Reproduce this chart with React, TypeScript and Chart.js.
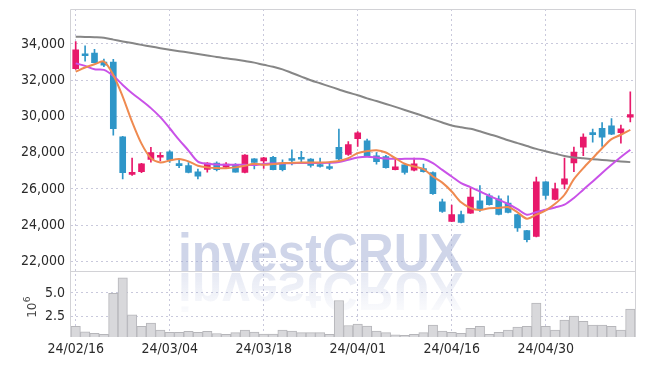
import { useEffect, useRef } from "react";
import { Chart, registerables } from "chart.js";
Chart.register(...registerables);

const dates = [
  "24/02/16","24/02/19","24/02/20","24/02/21","24/02/22","24/02/23","24/02/26","24/02/27","24/02/28","24/02/29",
  "24/03/04","24/03/05","24/03/06","24/03/07","24/03/08","24/03/11","24/03/12","24/03/13","24/03/14","24/03/15",
  "24/03/18","24/03/19","24/03/20","24/03/21","24/03/22","24/03/25","24/03/26","24/03/27","24/03/28","24/03/29",
  "24/04/01","24/04/02","24/04/03","24/04/04","24/04/05","24/04/08","24/04/09","24/04/11","24/04/12","24/04/15",
  "24/04/16","24/04/17","24/04/18","24/04/19","24/04/22","24/04/23","24/04/24","24/04/25","24/04/26","24/04/29",
  "24/04/30","24/05/02","24/05/03","24/05/07","24/05/08","24/05/09","24/05/10","24/05/13","24/05/14","24/05/16",
];

const opens = [
  32640,33400,33500,33000,33000,28880,26800,26950,27630,27750,
  28050,27400,27290,26950,27080,27430,27200,27350,26910,27660,
  27550,27740,27390,27600,27680,27650,27350,27240,28290,27900,
  28780,28660,27830,27790,27060,27330,27040,27130,26910,25290,
  24210,24580,24670,25350,25620,25460,25220,24580,23700,23380,
  26390,25420,26270,27430,28310,29050,29350,29480,29110,29960,
];
const highs = [
  34130,33900,33710,33160,33150,28900,27700,27420,28300,28000,
  28120,27650,27460,27100,27450,27500,27460,27400,27900,27680,
  27750,27800,27610,28160,28070,27680,27700,27430,29300,28620,
  29170,28750,28010,27850,27700,27350,27700,27370,26950,25440,
  25110,24780,26050,26180,25730,25620,25620,24600,23720,26650,
  26400,26320,27700,28310,29040,29300,29660,29880,29520,31360,
];
const lows = [
  32600,33050,32950,32750,28970,26550,26750,26900,27480,27550,
  27460,27180,26880,26550,26920,26990,27130,26930,26880,27100,
  27130,27050,27000,27330,27430,27200,27200,27060,27620,27850,
  28340,27790,27370,27150,27050,26820,27000,26930,25700,24700,
  24200,24120,24650,24760,25100,24560,24680,23660,23070,23350,
  25440,25400,26000,26950,27830,28580,28340,28990,28530,29700,
];
const closes = [
  33670,33350,32970,32830,29330,26900,26900,27390,28000,27830,
  27610,27290,26910,26700,27430,27060,27370,26930,27870,27460,
  27720,27060,27060,27570,27640,27300,27240,27130,27660,28450,
  29100,27790,27510,27180,27220,26910,27390,26960,25740,24760,
  24580,24150,25550,24890,25130,24600,24710,23850,23200,26390,
  25640,26000,26560,28030,28860,29000,28860,29020,29320,30100,
];
const maShort = [
  32470,32700,32880,33030,32290,31100,29700,28500,27700,27460,
  27570,27650,27520,27280,27190,27150,27140,27190,27280,27390,
  27330,27370,27430,27440,27460,27460,27460,27480,27540,27700,
  27980,28090,28140,28010,27700,27390,27240,27100,26690,26350,
  25860,25260,24950,24840,24930,24950,25000,24710,24360,24580,
  24820,25180,25680,26540,27150,27700,28250,28750,28990,29260,
];
const maMid = [
  32930,32790,32600,32570,32240,31740,31280,30880,30460,29960,
  29350,28710,28120,27510,27390,27350,27330,27330,27330,27320,
  27380,27400,27410,27420,27430,27430,27430,27440,27480,27610,
  27740,27780,27740,27680,27660,27660,27660,27650,27430,27050,
  26690,26320,26100,25860,25620,25400,25170,24890,24580,24730,
  24850,24980,25130,25500,25960,26410,26880,27330,27760,28160,
];
const maLong = [
  34400,34390,34370,34340,34240,34140,34050,33950,33860,33770,
  33680,33600,33530,33450,33370,33280,33210,33140,33060,32970,
  32850,32740,32600,32400,32200,32000,31830,31660,31490,31320,
  31170,31000,30850,30690,30530,30360,30190,30020,29840,29670,
  29500,29400,29320,29180,29020,28870,28690,28530,28370,28210,
  28080,27950,27820,27740,27690,27640,27600,27560,27520,27480,
];
const volumes = [
  1.47,0.87,0.73,0.62,4.96,6.6,2.68,1.47,1.8,1.05,
  0.83,0.83,0.94,0.83,0.94,0.7,0.62,0.8,1.05,0.85,
  0.65,0.65,1.05,0.95,0.8,0.8,0.8,0.62,4.2,1.55,
  1.7,1.5,0.95,0.8,0.55,0.5,0.62,0.8,1.58,0.97,
  0.83,0.73,1.26,1.47,0.62,0.83,1.05,1.37,1.47,3.93,
  1.47,1.05,2.12,2.54,2.0,1.58,1.58,1.47,1.05,3.3,
];
const priceTicks = [22000, 24000, 26000, 28000, 30000, 32000, 34000];
const volTicks = [2.5, 5.0];

const PINK = "#e8196b";
const BLUE = "#2f96c8";
const GRID = "#c9c9dc";
const FONT = "'DejaVu Sans Condensed', 'Liberation Sans Narrow', 'Roboto', sans-serif";

const fitY = (s: any) => {
  s.width = 63;
  s.paddingTop = 0;
  s.paddingBottom = 0;
};

export default function App() {
  const ref = useRef<HTMLCanvasElement>(null);
  useEffect(() => {
    const colors = closes.map((c, i) => (c >= opens[i] ? PINK : BLUE));

    const watermark = {
      id: "wm",
      beforeDatasetsDraw(chart: any) {
        const ctx = chart.ctx;
        const base = chart.scales.y.bottom;
        const x = 170;
        ctx.save();
        ctx.font = "bold 54px 'Liberation Sans', Arial, sans-serif";
        ctx.textBaseline = "alphabetic";
        ctx.textAlign = "left";
        ctx.fillStyle = "rgba(160,172,212,0.5)";
        ctx.fillText("investCRUX", x, base, 285);
        ctx.translate(0, base * 2 + 2);
        ctx.scale(1, -1);
        const g = ctx.createLinearGradient(0, base, 0, base - 48);
        g.addColorStop(0, "rgba(160,172,212,0.26)");
        g.addColorStop(1, "rgba(160,172,212,0)");
        ctx.fillStyle = g;
        ctx.fillText("investCRUX", x, base, 285);
        ctx.restore();
      },
    };

    const frame = {
      id: "frame",
      afterDraw(chart: any) {
        const ctx = chart.ctx;
        const ca = chart.chartArea;
        const sep = chart.scales.y.bottom;
        ctx.save();
        ctx.strokeStyle = "#d2d2d6";
        ctx.lineWidth = 1;
        ctx.beginPath();
        ctx.moveTo(Math.round(ca.left) - 0.5, ca.bottom);
        ctx.lineTo(Math.round(ca.left) - 0.5, Math.round(ca.top) + 0.5);
        ctx.lineTo(Math.round(ca.right) + 0.5, Math.round(ca.top) + 0.5);
        ctx.lineTo(Math.round(ca.right) + 0.5, ca.bottom);
        ctx.moveTo(ca.left, Math.round(sep) + 0.5);
        ctx.lineTo(ca.right, Math.round(sep) + 0.5);
        ctx.stroke();
        const cy = (chart.scales.yVol.top + chart.scales.yVol.bottom) / 2 + 6;
        ctx.translate(25, cy);
        ctx.rotate(-Math.PI / 2);
        ctx.fillStyle = "#444";
        ctx.font = "12px 'DejaVu Sans', sans-serif";
        ctx.textBaseline = "middle";
        ctx.textAlign = "center";
        ctx.fillText("10", 0, 0);
        ctx.font = "9px 'DejaVu Sans', sans-serif";
        ctx.textAlign = "left";
        ctx.fillText("6", 8, -5);
        ctx.restore();
      },
    };

    const chart = new Chart(ref.current as HTMLCanvasElement, {
      type: "bar",
      data: {
        labels: dates,
        datasets: [
          { type: "line", label: "MA5", data: maShort, yAxisID: "y", borderColor: "#ef8a50", borderWidth: 2, pointRadius: 0, tension: 0.3, order: 0 } as any,
          { type: "line", label: "MA10", data: maMid, yAxisID: "y", borderColor: "#c952e8", borderWidth: 2, pointRadius: 0, tension: 0.3, order: 0 } as any,
          { type: "line", label: "MA60", data: maLong, yAxisID: "y", borderColor: "#868686", borderWidth: 2, pointRadius: 0, tension: 0.3, order: 0 } as any,
          { label: "body", data: opens.map((o, i) => [o, closes[i]]), backgroundColor: colors, barThickness: 6, grouped: false, yAxisID: "y", order: 1, minBarLength: 2 } as any,
          { label: "wick", data: lows.map((l, i) => [l, highs[i]]), backgroundColor: colors, barThickness: 1, grouped: false, yAxisID: "y", order: 2 } as any,
          { label: "volume", data: volumes, backgroundColor: "#d8d8db", borderColor: "#b6b6ba", borderWidth: 1, barPercentage: 1, categoryPercentage: 1, grouped: false, yAxisID: "yVol", order: 3 } as any,
        ],
      },
      options: {
        animation: false,
        responsive: true,
        maintainAspectRatio: false,
        layout: { padding: { top: 1, right: 2, left: 0, bottom: 0 } },
        plugins: { legend: { display: false }, tooltip: { enabled: false } },
        scales: {
          x: {
            type: "category",
            offset: true,
            grid: { offset: false, color: GRID, drawTicks: false },
            border: { display: false, dash: [2, 3] },
            afterBuildTicks: (s: any) => { s.ticks = s.ticks.filter((t: any) => t.value % 10 === 0); },
            afterFit: (s: any) => { s.height = 21; s.paddingLeft = 0; s.paddingRight = 0; },
            ticks: {
              autoSkip: false, maxRotation: 0, padding: 4, color: "#2a2a2a",
              font: { family: FONT, size: 14 },
              callback: (v: any) => dates[v as number],
            },
          },
          yVol: {
            type: "linear",
            position: "left",
            stack: "main",
            stackWeight: 1,
            min: 0.33,
            max: 7.28,
            grid: { color: GRID, drawTicks: false },
            border: { display: false, dash: [2, 3] },
            afterBuildTicks: (s: any) => { s.ticks = volTicks.map((v) => ({ value: v })); },
            afterFit: fitY,
            ticks: {
              padding: 6, color: "#2a2a2a",
              font: { family: FONT, size: 14 },
              callback: (v: any) => Number(v).toFixed(1),
            },
          },
          y: {
            type: "linear",
            position: "left",
            stack: "main",
            stackWeight: 4,
            min: 21450,
            max: 35930,
            grid: { color: GRID, drawTicks: false },
            border: { display: false, dash: [2, 3] },
            afterBuildTicks: (s: any) => { s.ticks = priceTicks.map((v) => ({ value: v })); },
            afterFit: fitY,
            ticks: {
              padding: 6, color: "#2a2a2a",
              font: { family: FONT, size: 14 },
              callback: (v: any) => Number(v).toLocaleString("en-US"),
            },
          },
        },
      } as any,
      plugins: [watermark, frame],
    });
    return () => chart.destroy();
  }, []);
  return (
    <div style={{ position: "relative", width: 629, height: 350 }}>
      <canvas ref={ref} />
    </div>
  );
}
